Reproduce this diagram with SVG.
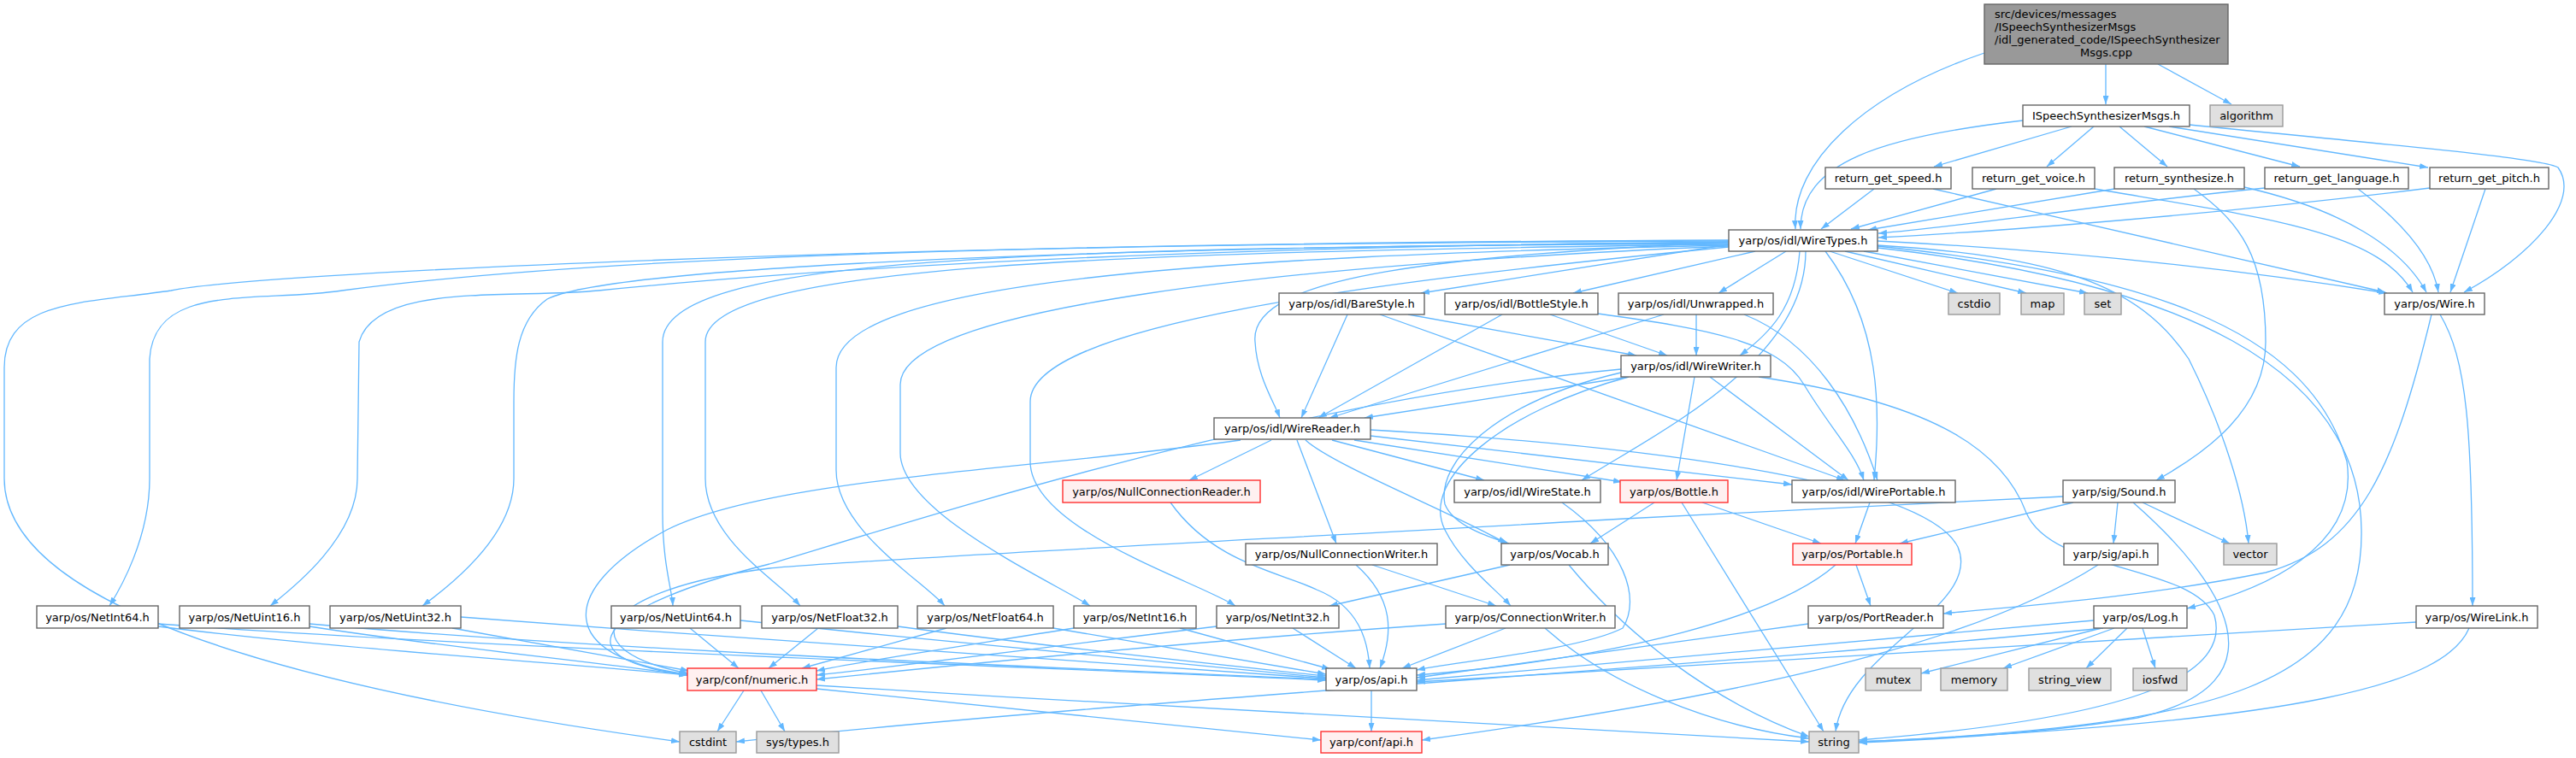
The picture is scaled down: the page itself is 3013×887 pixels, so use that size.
<svg xmlns="http://www.w3.org/2000/svg" width="3013" height="887" viewBox="0 0 3013 887">
<style>
text{font-family:"DejaVu Sans","Liberation Sans",sans-serif;font-size:13px;fill:#000;text-anchor:middle}
.n rect{fill:#fff;stroke:#666;stroke-width:1.4}
.g rect{fill:#e0e0e0;stroke:#999;stroke-width:1.4}
.r rect{fill:#fff0f0;stroke:#ff3030;stroke-width:1.4}
.m rect{fill:#999;stroke:#666;stroke-width:1.4}
#edges path{fill:none;stroke:#63b8ff;stroke-width:1.3;marker-end:url(#ah)}
</style>
<defs>
<marker id="ah" viewBox="0 0 10 7" refX="10" refY="3.5" markerWidth="10" markerHeight="7" markerUnits="userSpaceOnUse" orient="auto"><path d="M0,0 L10,3.5 L0,7 z" fill="#63b8ff"/></marker>
</defs>
<rect width="3013" height="887" fill="#fff"/>
<g id="edges">
<path d="M2321,62 C2180,110 2095,190 2100,268"/>
<path d="M2463,75 L2463,122"/>
<path d="M2524,75 L2610,122"/>
<path d="M2366,141 C2200,160 2106,190 2106,268"/>
<path d="M2423,148 L2262,195"/>
<path d="M2449,148 L2394,195"/>
<path d="M2479,148 L2535,195"/>
<path d="M2508,148 L2690,195"/>
<path d="M2537,148 L2840,196"/>
<path d="M2561,146 C2800,170 2975,185 2992,196 C3020,235 2960,300 2882,342"/>
<path d="M2192,221 L2130,268"/>
<path d="M2261,221 L2790,342"/>
<path d="M2335,221 L2165,268"/>
<path d="M2450,221 C2650,255 2780,270 2822,342"/>
<path d="M2473,221 L2185,269"/>
<path d="M2625,219 C2740,245 2810,290 2838,342"/>
<path d="M2566,221 C2620,260 2650,300 2650,400 C2650,480 2580,530 2522,562"/>
<path d="M2649,220 C2450,240 2300,265 2197,273"/>
<path d="M2758,221 C2810,260 2845,300 2852,342"/>
<path d="M2842,220 C2600,250 2350,270 2197,278"/>
<path d="M2907,221 L2866,342"/>
<path d="M2196,282 C2450,295 2650,320 2792,343"/>
<path d="M2140,294 L2290,343"/>
<path d="M2158,294 L2370,343"/>
<path d="M2180,294 L2442,343"/>
<path d="M2022,286 L1662,343"/>
<path d="M2053,294 L1840,343"/>
<path d="M2089,294 L2010,343"/>
<path d="M2105,294 C2100,360 2070,390 2035,416"/>
<path d="M2112,294 C2112,420 1950,500 1850,562"/>
<path d="M2135,294 C2200,380 2200,480 2192,562"/>
<path d="M2022,283 C1700,300 1460,320 1468,400 C1470,440 1490,470 1497,489"/>
<path d="M2196,287 C2400,300 2500,330 2560,420 C2600,500 2625,580 2630,636"/>
<path d="M2196,288 C2500,320 2700,380 2745,540 C2760,640 2650,690 2558,712"/>
<path d="M2196,290 C2550,330 2760,430 2762,620 C2765,800 2600,850 2174,868"/>
<path d="M2022,289 C1600,330 1205,380 1205,470 L1205,540 C1205,620 1400,680 1445,709"/>
<path d="M2022,288 C1500,310 1053,360 1053,450 L1053,530 C1053,600 1230,680 1275,709"/>
<path d="M2022,287 C1400,300 978,330 978,430 L978,550 C978,620 1080,680 1105,709"/>
<path d="M2022,286 C1300,295 825,310 825,400 L825,560 C825,630 910,680 936,709"/>
<path d="M2022,285 C1200,290 775,300 775,400 L775,600 C775,660 786,690 787,709"/>
<path d="M2022,284 C1100,290 700,320 640,350 C605,375 601,420 601,470 L601,560 C601,630 520,690 494,709"/>
<path d="M2022,283 C1300,290 900,320 700,340 C600,350 440,330 420,400 L418,560 C418,630 340,690 316,709"/>
<path d="M2022,282 C1200,285 700,300 400,340 C300,355 180,330 175,420 L175,560 C175,630 140,690 128,709"/>
<path d="M2022,281 C1000,285 300,320 200,340 C100,355 5,350 5,430 L5,560 C5,700 300,800 795,868"/>
<path d="M1576,368 L1522,489"/>
<path d="M1647,368 L1914,416"/>
<path d="M1614,368 L2158,562"/>
<path d="M1757,368 L1542,489"/>
<path d="M1813,368 L1950,416"/>
<path d="M1869,367 C2000,385 2080,400 2110,450 C2140,500 2170,530 2180,562"/>
<path d="M1984,368 L1984,416"/>
<path d="M1946,368 L1555,489"/>
<path d="M2040,368 C2120,400 2170,480 2196,562"/>
<path d="M1905,441 L1596,489"/>
<path d="M1896,432 C1500,470 1100,600 900,660 C700,710 650,770 805,790"/>
<path d="M1982,441 L1961,562"/>
<path d="M2000,441 L2162,562"/>
<path d="M1896,436 C1750,470 1680,540 1690,590 C1700,615 1740,628 1765,636"/>
<path d="M1905,441 C1760,480 1660,560 1690,620 C1710,660 1750,690 1767,709"/>
<path d="M2057,441 C2250,470 2340,520 2370,600 C2400,670 2560,660 2590,720 C2610,790 2500,840 2174,866"/>
<path d="M1487,515 L1391,562"/>
<path d="M1517,515 L1563,636"/>
<path d="M1527,515 C1560,545 1700,600 1762,636"/>
<path d="M1558,515 L1736,562"/>
<path d="M1584,515 L1897,564"/>
<path d="M1603,510 L2096,567"/>
<path d="M1451,515 C1200,550 900,560 780,620 C650,690 650,770 805,789"/>
<path d="M1603,503 C1900,520 2250,560 2290,640 C2320,710 2160,760 2147,856"/>
<path d="M1369,588 C1420,660 1500,670 1540,690 C1590,710 1600,750 1602,782"/>
<path d="M1586,661 C1630,700 1630,740 1614,782"/>
<path d="M1605,661 L1750,709"/>
<path d="M1827,588 C1900,640 1920,700 1898,735 C1850,760 1700,775 1657,784"/>
<path d="M1766,661 L1555,709"/>
<path d="M1835,661 C1900,740 2000,820 2116,862"/>
<path d="M1935,588 L1860,636"/>
<path d="M1991,588 L2130,636"/>
<path d="M1967,588 L2133,856"/>
<path d="M2187,588 L2170,636"/>
<path d="M2425,588 L2222,636"/>
<path d="M2477,588 L2472,636"/>
<path d="M2506,588 L2608,636"/>
<path d="M2495,588 C2600,680 2680,800 2500,840 C2380,860 2250,866 2174,869"/>
<path d="M2413,581 L1900,607 C1500,630 1000,655 900,665 C700,690 660,760 805,788"/>
<path d="M2454,661 C2300,760 2000,820 1663,866"/>
<path d="M2171,661 L2188,709"/>
<path d="M2147,661 C2080,720 1900,770 1657,790"/>
<path d="M2115,730 L1657,793"/>
<path d="M2449,726 L1657,796"/>
<path d="M2460,735 C2000,780 1300,820 861,868"/>
<path d="M2458,735 L2247,788"/>
<path d="M2473,735 L2343,782"/>
<path d="M2488,735 L2440,782"/>
<path d="M2506,735 L2521,782"/>
<path d="M2826,728 L1657,798"/>
<path d="M2888,735 C2860,800 2700,845 2174,868"/>
<path d="M2854,368 C2885,420 2892,500 2892,709"/>
<path d="M2844,368 C2800,550 2760,640 2650,670 C2500,700 2350,710 2273,718"/>
<path d="M185,733 C400,760 650,775 804,790"/>
<path d="M185,730 C600,760 1200,780 1551,796"/>
<path d="M362,733 C500,755 700,775 804,790"/>
<path d="M362,730 C700,760 1200,780 1551,795"/>
<path d="M529,735 L806,785"/>
<path d="M539,722 C900,750 1300,775 1551,794"/>
<path d="M807,735 L864,782"/>
<path d="M866,726 C1100,750 1350,775 1551,793"/>
<path d="M957,735 L899,782"/>
<path d="M1050,733 C1250,760 1450,780 1551,791"/>
<path d="M1107,735 L938,782"/>
<path d="M1232,735 L1551,789"/>
<path d="M1256,735 C1100,760 1000,775 955,785"/>
<path d="M1380,735 L1556,783"/>
<path d="M1423,733 C1200,760 1050,780 955,790"/>
<path d="M1512,735 L1586,782"/>
<path d="M1761,735 L1640,782"/>
<path d="M1807,735 C1880,800 2000,850 2116,864"/>
<path d="M1691,730 C1400,750 1100,780 955,795"/>
<path d="M870,808 L839,856"/>
<path d="M890,808 L918,856"/>
<path d="M955,802 C1400,830 1900,855 2116,868"/>
<path d="M955,806 L1545,866"/>
<path d="M1604,808 L1604,856"/>
</g>
<g id="n_main" class="m"><rect x="2321" y="5" width="285" height="70"/>
<text x="2333" y="21" style="text-anchor:start">src/devices/messages</text>
<text x="2333" y="36" style="text-anchor:start">/ISpeechSynthesizerMsgs</text>
<text x="2333" y="51" style="text-anchor:start">/idl_generated_code/ISpeechSynthesizer</text>
<text x="2463.5" y="65.5">Msgs.cpp</text></g>
<g id="n_ispeech" class="n"><rect x="2366" y="123" width="195" height="25"/><text x="2463.5" y="140">ISpeechSynthesizerMsgs.h</text></g>
<g id="n_algorithm" class="g"><rect x="2585" y="123" width="85" height="25"/><text x="2627.5" y="140">algorithm</text></g>
<g id="n_speed" class="n"><rect x="2135" y="196" width="147" height="25"/><text x="2208.5" y="213">return_get_speed.h</text></g>
<g id="n_voice" class="n"><rect x="2307" y="196" width="143" height="25"/><text x="2378.5" y="213">return_get_voice.h</text></g>
<g id="n_synth" class="n"><rect x="2473" y="196" width="152" height="25"/><text x="2549" y="213">return_synthesize.h</text></g>
<g id="n_language" class="n"><rect x="2649" y="196" width="168" height="25"/><text x="2733" y="213">return_get_language.h</text></g>
<g id="n_pitch" class="n"><rect x="2842" y="196" width="139" height="25"/><text x="2911.5" y="213">return_get_pitch.h</text></g>
<g id="n_wiretypes" class="n"><rect x="2022" y="269" width="174" height="25"/><text x="2109" y="286">yarp/os/idl/WireTypes.h</text></g>
<g id="n_barestyle" class="n"><rect x="1496" y="343" width="170" height="25"/><text x="1581" y="360">yarp/os/idl/BareStyle.h</text></g>
<g id="n_bottlestyle" class="n"><rect x="1690" y="343" width="179" height="25"/><text x="1779.5" y="360">yarp/os/idl/BottleStyle.h</text></g>
<g id="n_unwrapped" class="n"><rect x="1893" y="343" width="181" height="25"/><text x="1983.5" y="360">yarp/os/idl/Unwrapped.h</text></g>
<g id="n_cstdio" class="g"><rect x="2279" y="343" width="60" height="25"/><text x="2309" y="360">cstdio</text></g>
<g id="n_map" class="g"><rect x="2364" y="343" width="50" height="25"/><text x="2389" y="360">map</text></g>
<g id="n_set" class="g"><rect x="2438" y="343" width="43" height="25"/><text x="2459.5" y="360">set</text></g>
<g id="n_wire" class="n"><rect x="2789" y="343" width="117" height="25"/><text x="2847.5" y="360">yarp/os/Wire.h</text></g>
<g id="n_wirewriter" class="n"><rect x="1896" y="416" width="175" height="25"/><text x="1983.5" y="433">yarp/os/idl/WireWriter.h</text></g>
<g id="n_wirereader" class="n"><rect x="1420" y="489" width="183" height="25"/><text x="1511.5" y="506">yarp/os/idl/WireReader.h</text></g>
<g id="n_nullconnreader" class="r"><rect x="1243" y="562" width="231" height="26"/><text x="1358.5" y="580">yarp/os/NullConnectionReader.h</text></g>
<g id="n_wirestate" class="n"><rect x="1701" y="562" width="171" height="26"/><text x="1786.5" y="580">yarp/os/idl/WireState.h</text></g>
<g id="n_bottle" class="r"><rect x="1895" y="562" width="126" height="26"/><text x="1958" y="580">yarp/os/Bottle.h</text></g>
<g id="n_wireportable" class="n"><rect x="2096" y="562" width="191" height="26"/><text x="2191.5" y="580">yarp/os/idl/WirePortable.h</text></g>
<g id="n_sound" class="n"><rect x="2413" y="562" width="131" height="26"/><text x="2478.5" y="580">yarp/sig/Sound.h</text></g>
<g id="n_nullconnwriter" class="n"><rect x="1457" y="636" width="224" height="25"/><text x="1569" y="653">yarp/os/NullConnectionWriter.h</text></g>
<g id="n_vocab" class="n"><rect x="1756" y="636" width="125" height="25"/><text x="1818.5" y="653">yarp/os/Vocab.h</text></g>
<g id="n_portable" class="r"><rect x="2097" y="636" width="139" height="25"/><text x="2166.5" y="653">yarp/os/Portable.h</text></g>
<g id="n_sigapi" class="n"><rect x="2414" y="636" width="110" height="25"/><text x="2469" y="653">yarp/sig/api.h</text></g>
<g id="n_vector" class="g"><rect x="2601" y="636" width="62" height="25"/><text x="2632" y="653">vector</text></g>
<g id="n_netint64" class="n"><rect x="43" y="709" width="142" height="26"/><text x="114" y="727">yarp/os/NetInt64.h</text></g>
<g id="n_netuint16" class="n"><rect x="210" y="709" width="152" height="26"/><text x="286" y="727">yarp/os/NetUint16.h</text></g>
<g id="n_netuint32" class="n"><rect x="386" y="709" width="153" height="26"/><text x="462.5" y="727">yarp/os/NetUint32.h</text></g>
<g id="n_netuint64" class="n"><rect x="715" y="709" width="151" height="26"/><text x="790.5" y="727">yarp/os/NetUint64.h</text></g>
<g id="n_netfloat32" class="n"><rect x="891" y="709" width="159" height="26"/><text x="970.5" y="727">yarp/os/NetFloat32.h</text></g>
<g id="n_netfloat64" class="n"><rect x="1073" y="709" width="159" height="26"/><text x="1152.5" y="727">yarp/os/NetFloat64.h</text></g>
<g id="n_netint16" class="n"><rect x="1256" y="709" width="143" height="26"/><text x="1327.5" y="727">yarp/os/NetInt16.h</text></g>
<g id="n_netint32" class="n"><rect x="1423" y="709" width="143" height="26"/><text x="1494.5" y="727">yarp/os/NetInt32.h</text></g>
<g id="n_connwriter" class="n"><rect x="1691" y="709" width="198" height="26"/><text x="1790" y="727">yarp/os/ConnectionWriter.h</text></g>
<g id="n_portreader" class="n"><rect x="2115" y="709" width="158" height="26"/><text x="2194" y="727">yarp/os/PortReader.h</text></g>
<g id="n_log" class="n"><rect x="2449" y="709" width="109" height="26"/><text x="2503.5" y="727">yarp/os/Log.h</text></g>
<g id="n_wirelink" class="n"><rect x="2826" y="709" width="142" height="26"/><text x="2897" y="727">yarp/os/WireLink.h</text></g>
<g id="n_numeric" class="r"><rect x="804" y="782" width="151" height="26"/><text x="879.5" y="800">yarp/conf/numeric.h</text></g>
<g id="n_osapi" class="n"><rect x="1551" y="782" width="106" height="26"/><text x="1604" y="800">yarp/os/api.h</text></g>
<g id="n_mutex" class="g"><rect x="2182" y="782" width="65" height="26"/><text x="2214.5" y="800">mutex</text></g>
<g id="n_memory" class="g"><rect x="2270" y="782" width="78" height="26"/><text x="2309" y="800">memory</text></g>
<g id="n_stringview" class="g"><rect x="2373" y="782" width="96" height="26"/><text x="2421" y="800">string_view</text></g>
<g id="n_iosfwd" class="g"><rect x="2495" y="782" width="63" height="26"/><text x="2526.5" y="800">iosfwd</text></g>
<g id="n_cstdint" class="g"><rect x="795" y="856" width="66" height="25"/><text x="828" y="873">cstdint</text></g>
<g id="n_systypes" class="g"><rect x="885" y="856" width="96" height="25"/><text x="933" y="873">sys/types.h</text></g>
<g id="n_confapi" class="r"><rect x="1545" y="856" width="118" height="25"/><text x="1604" y="873">yarp/conf/api.h</text></g>
<g id="n_string" class="g"><rect x="2116" y="856" width="58" height="25"/><text x="2145" y="873">string</text></g>
</svg>
